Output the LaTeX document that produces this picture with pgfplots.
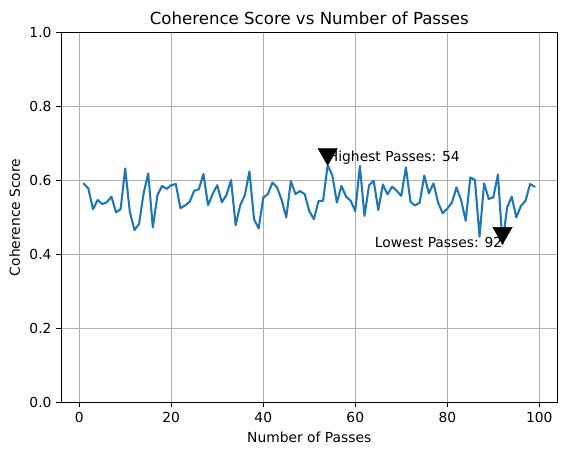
\documentclass[border=0pt]{standalone}
\usepackage{fontspec}
\setmainfont{DejaVu Sans}
\usepackage{pgfplots}
\pgfplotsset{compat=1.18}
\usetikzlibrary{calc}

\definecolor{mplblue}{HTML}{1F77B4}
\definecolor{mplgrid}{HTML}{B0B0B0}

\pgfplotstableread{
x y
1 0.591
2 0.578
3 0.522
4 0.547
5 0.536
6 0.541
7 0.556
8 0.514
9 0.522
10 0.632
11 0.515
12 0.466
13 0.482
14 0.565
15 0.619
16 0.473
17 0.560
18 0.585
19 0.577
20 0.587
21 0.590
22 0.525
23 0.532
24 0.542
25 0.572
26 0.576
27 0.617
28 0.533
29 0.563
30 0.587
31 0.541
32 0.560
33 0.601
34 0.479
35 0.533
36 0.560
37 0.624
38 0.495
39 0.470
40 0.553
41 0.563
42 0.594
43 0.581
44 0.547
45 0.500
46 0.598
47 0.563
48 0.571
49 0.563
50 0.517
51 0.495
52 0.544
53 0.545
54 0.641
55 0.614
56 0.540
57 0.585
58 0.556
59 0.545
60 0.517
61 0.639
62 0.504
63 0.587
64 0.599
65 0.520
66 0.589
67 0.562
68 0.583
69 0.572
70 0.558
71 0.635
72 0.542
73 0.532
74 0.540
75 0.613
76 0.565
77 0.592
78 0.540
79 0.511
80 0.524
81 0.540
82 0.581
83 0.547
84 0.491
85 0.608
86 0.601
87 0.448
88 0.592
89 0.550
90 0.554
91 0.616
92 0.428
93 0.527
94 0.556
95 0.500
96 0.531
97 0.545
98 0.590
99 0.583
}\scores

\begin{document}
\begin{tikzpicture}
\begin{axis}[
  name=ax,
  at={(0,0)}, anchor=south west,
  scale only axis,
  width=357.1bp, height=266.4bp,
  xmin=-3.9, xmax=103.9,
  ymin=0, ymax=1,
  xtick={0,20,...,100},
  ytick={0,0.2,0.4,0.6,0.8,1.0},
  grid=major,
  major grid style={mplgrid, line width=0.8bp},
  axis line style={line width=0.8bp},
  tick style={black, line width=0.8bp},
  major tick length=3.5bp,
  tick align=outside,
  xtick pos=bottom, ytick pos=left,
  /pgf/number format/assume math mode=true,
  yticklabel style={/pgf/number format/.cd, fixed, fixed zerofill, precision=1},
  ticklabel style={font=\fontsize{10}{12}\selectfont},
  xlabel={Number of Passes},
  ylabel={Coherence Score},
  label style={font=\fontsize{10}{12}\selectfont},
  title={Coherence Score vs Number of Passes},
  title style={font=\fontsize{12}{14}\selectfont, at={(0.5,1)}, anchor=base,
    inner sep=0pt},
  clip=false,
]
  \addplot[mplblue, line width=1.5bp, line join=round, line cap=round]
    table[x=x, y=y] {\scores};
  \addplot[only marks, mark=triangle*, mark size=8bp, black,
    mark options={yshift=8bp, rotate=180}] coordinates {(54,0.641) (92,0.428)};
  \node[anchor=base west, font=\fontsize{10}{12}\selectfont, inner sep=0pt]
    at (axis cs:54,0.651) {Highest Passes: 54};
  \node[anchor=base east, font=\fontsize{10}{12}\selectfont, inner sep=0pt]
    at (axis cs:92,0.418) {Lowest Passes: 92};
\end{axis}
\path[use as bounding box] ($(ax.south west)+(-44.1bp,-38.2bp)$)
  rectangle ($(ax.north east)+(7bp,23.3bp)$);
\end{tikzpicture}
\end{document}
